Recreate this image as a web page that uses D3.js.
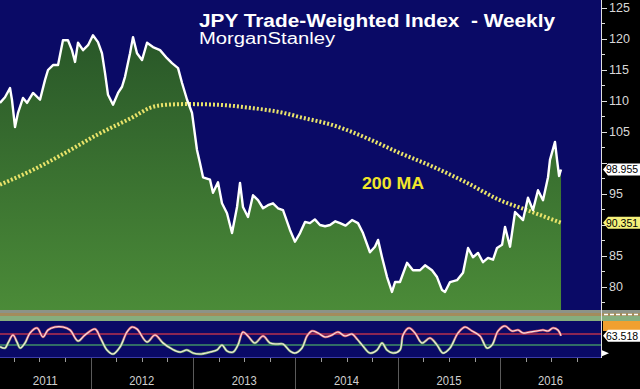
<!DOCTYPE html>
<html><head><meta charset="utf-8">
<script src="https://cdn.jsdelivr.net/npm/d3@7"></script>
<style>html,body{margin:0;padding:0;background:#000;}svg{display:block;}</style>
</head><body>
<script>
// ---------- DATA ----------
const priceDates = [2011.115,2011.164,2011.213,2011.232,2011.262,2011.291,2011.340,2011.379,2011.438,2011.506,2011.555,2011.584,2011.633,2011.682,2011.730,2011.779,2011.818,2011.848,2011.877,2011.926,2011.975,2012.023,2012.072,2012.111,2012.141,2012.170,2012.219,2012.268,2012.307,2012.336,2012.385,2012.414,2012.453,2012.502,2012.551,2012.609,2012.678,2012.746,2012.795,2012.854,2012.893,2012.942,2012.990,2013.039,2013.068,2013.098,2013.166,2013.195,2013.244,2013.283,2013.332,2013.381,2013.430,2013.459,2013.488,2013.537,2013.586,2013.635,2013.684,2013.732,2013.781,2013.830,2013.879,2013.947,2013.996,2014.045,2014.094,2014.142,2014.190,2014.240,2014.290,2014.338,2014.390,2014.436,2014.490,2014.553,2014.611,2014.660,2014.728,2014.777,2014.807,2014.846,2014.895,2014.943,2014.973,2015.021,2015.090,2015.148,2015.217,2015.266,2015.334,2015.383,2015.432,2015.461,2015.510,2015.578,2015.637,2015.686,2015.734,2015.783,2015.832,2015.881,2015.930,2015.969,2016.018,2016.047,2016.096,2016.145,2016.193,2016.223,2016.271,2016.320,2016.369,2016.418,2016.467,2016.486,2016.535,2016.555,2016.575,2016.594];
const priceValues = [109.7,110.6,112.1,110.2,105.8,108.1,110.5,109.7,111.3,110.2,113.4,115.0,115.8,115.8,119.8,119.8,118.2,116.3,119.4,118.2,119.0,120.6,119.5,117.7,114.5,111.0,109.4,111.3,112.3,113.9,117.7,120.3,117.7,116.6,119.4,118.7,118.2,116.9,116.1,115.3,112.9,110.2,108.1,102.1,100.0,97.7,97.3,95.2,96.9,93.5,91.9,88.7,92.9,96.8,92.9,91.3,94.8,94.0,92.7,93.2,93.5,92.7,92.4,89.2,87.3,88.7,90.5,90.3,90.9,90.0,89.8,90.0,90.6,90.3,89.9,90.8,90.3,88.7,85.6,86.5,87.6,84.8,81.6,79.2,80.8,80.8,83.9,82.7,82.7,83.5,82.7,81.6,79.5,79.2,80.8,81.1,82.3,86.3,84.8,85.5,84.0,84.7,84.4,86.3,86.8,89.7,86.5,92.1,91.3,90.8,94.4,92.4,95.6,94.0,97.7,100.5,103.4,100.5,97.9,98.955];

const maDates = [2011.115,2011.438,2011.770,2012.092,2012.414,2012.580,2012.746,2012.942,2013.234,2013.557,2013.879,2014.045,2014.367,2014.699,2015.021,2015.344,2015.676,2015.998,2016.262,2016.594];
const maValues = [96.5,98.9,101.8,104.8,107.4,108.9,109.4,109.5,109.4,108.9,108.1,107.4,106.1,104.0,101.6,99.4,96.8,94.0,92.4,90.351];

const oscDates = [2011.115,2011.164,2011.193,2011.242,2011.281,2011.311,2011.359,2011.408,2011.477,2011.535,2011.584,2011.652,2011.730,2011.799,2011.877,2011.945,2012.043,2012.092,2012.160,2012.219,2012.287,2012.355,2012.404,2012.453,2012.551,2012.629,2012.707,2012.795,2012.873,2012.941,2013.000,2013.068,2013.166,2013.234,2013.283,2013.332,2013.391,2013.439,2013.488,2013.537,2013.605,2013.684,2013.752,2013.820,2013.879,2013.947,2013.996,2014.064,2014.113,2014.162,2014.221,2014.289,2014.357,2014.416,2014.484,2014.553,2014.602,2014.660,2014.728,2014.797,2014.846,2014.895,2014.953,2015.021,2015.051,2015.109,2015.168,2015.236,2015.314,2015.383,2015.441,2015.510,2015.588,2015.656,2015.725,2015.803,2015.871,2015.920,2015.979,2016.047,2016.115,2016.174,2016.223,2016.291,2016.359,2016.418,2016.467,2016.516,2016.564,2016.594];
const oscValues = [23.8,19.1,37.3,66.4,40.9,19.1,37.3,73.6,91.8,59.1,84.5,95.5,95.5,84.5,44.5,66.4,88.2,59.1,11.8,-2.7,22.7,77.3,95.5,88.2,40.9,66.4,37.3,15.5,4.5,11.8,0.9,-2.7,4.5,11.8,30,8.2,4.5,30,77.3,62.7,37.3,62.7,37.3,33.6,33.6,8.2,0.9,19.1,62.7,80.9,73.6,59.1,66.4,77.3,62.7,70,51.8,26.4,0.9,11.8,37.3,11.8,0.9,11.8,66.4,91.8,73.6,37.3,55.5,30,0.9,19.1,73.6,95.5,80.9,62.7,19.1,30,80.9,99.1,80.9,84.5,73.6,77.3,80.9,84.5,80.9,91.8,84.5,63.518];

const yTicks = [80,85,90,95,100,105,110,115,120,125];
const years = ["2011","2012","2013","2014","2015","2016"];
const oscLevels = [70,30];
const lastPrice = "98.955", lastMA = "90.351", lastOsc = "63.518";

// ---------- LAYOUT ----------
const W = 640, H = 389;
const plotR = 601;
const mainTop = 0, mainBot = 310;
const oscTop = 321, oscBot = 357;

const svg = d3.select("body").append("svg").attr("width", W).attr("height", H)
  .style("font-family", "'Liberation Sans', Arial, sans-serif");

const x = d3.scaleLinear().domain([2011.1152, 2011.1152 + plotR/102.4]).range([0, plotR]);
const y = d3.scaleLinear().domain([76.29, 126.29]).range([mainBot, mainTop]);
const yo = d3.scaleLinear().domain([-17, 110]).range([358, 323]);

const defs = svg.append("defs");
const g1 = defs.append("linearGradient").attr("id","grn").attr("gradientUnits","userSpaceOnUse")
  .attr("x1",0).attr("y1",30).attr("x2",0).attr("y2",mainBot);
g1.append("stop").attr("offset",0).attr("stop-color","#285628");
g1.append("stop").attr("offset",1).attr("stop-color","#4b8b38");
const g2 = defs.append("linearGradient").attr("id","oscg").attr("gradientUnits","userSpaceOnUse")
  .attr("x1",0).attr("y1",oscTop).attr("x2",0).attr("y2",oscBot);
g2.append("stop").attr("offset",0.45).attr("stop-color","#d85868");
g2.append("stop").attr("offset",0.6).attr("stop-color","#80b868");
defs.append("clipPath").attr("id","clipMain").append("rect").attr("x",0).attr("y",0).attr("width",plotR).attr("height",mainBot);
defs.append("clipPath").attr("id","clipOsc").append("rect").attr("x",0).attr("y",oscTop).attr("width",plotR).attr("height",oscBot-oscTop);

// backgrounds
svg.append("rect").attr("width",W).attr("height",H).attr("fill","#000");
svg.append("rect").attr("x",0).attr("y",0).attr("width",plotR).attr("height",mainBot).attr("fill","#0a0a66");

const price = priceDates.map((d,i)=>({t:d, v:priceValues[i]}));
const ma = maDates.map((d,i)=>({t:d, v:maValues[i]}));
const osc = oscDates.map((d,i)=>({t:d, v:oscValues[i]}));

const gm = svg.append("g").attr("clip-path","url(#clipMain)");
gm.append("path").datum(price)
  .attr("d", d3.area().x(d=>x(d.t)).y0(mainBot).y1(d=>y(d.v)))
  .attr("fill","url(#grn)");
gm.append("path").datum(ma)
  .attr("d", d3.line().x(d=>x(d.t)).y(d=>y(d.v)).curve(d3.curveMonotoneX))
  .attr("fill","none").attr("stroke","#e9e36a").attr("stroke-width",4).attr("stroke-dasharray","2,2");
gm.append("path").datum(price)
  .attr("d", d3.line().x(d=>x(d.t)).y(d=>y(d.v)))
  .attr("fill","none").attr("stroke","#ffffff").attr("stroke-width",2.4).attr("stroke-linejoin","round");

// titles
svg.append("text").attr("x",199).attr("y",27).attr("fill","#fff").attr("font-weight","bold")
  .attr("font-size",18).style("white-space","pre").attr("textLength",356).attr("lengthAdjust","spacingAndGlyphs")
  .text("JPY Trade-Weighted Index  - Weekly");
svg.append("text").attr("x",199).attr("y",44).attr("fill","#fff").attr("font-size",16)
  .attr("textLength",136).attr("lengthAdjust","spacingAndGlyphs").text("MorganStanley");
svg.append("text").attr("x",362).attr("y",189).attr("fill","#f2e62a").attr("font-weight","bold")
  .attr("font-size",17).attr("textLength",62).attr("lengthAdjust","spacingAndGlyphs").text("200 MA");

// separator bands
const bands = [[310,313,"#8d9387"],[313,316,"#a38c5c"],[316,321,"#86ae7e"]];
bands.forEach(b=>svg.append("rect").attr("x",0).attr("y",b[0]).attr("width",W).attr("height",b[1]-b[0]).attr("fill",b[2]));
svg.append("line").attr("x1",604).attr("x2",W).attr("y1",314.5).attr("y2",314.5)
  .attr("stroke","#fff").attr("stroke-width",1.5).attr("stroke-dasharray","4,2");

// oscillator panel
svg.append("rect").attr("x",0).attr("y",oscTop).attr("width",plotR).attr("height",oscBot-oscTop).attr("fill","#0a0a66");
svg.append("line").attr("x1",0).attr("x2",plotR).attr("y1",oscBot+0.5).attr("y2",oscBot+0.5).attr("stroke","#3a3aa8");
svg.append("line").attr("x1",0).attr("x2",plotR).attr("y1",yo(oscLevels[0])).attr("y2",yo(oscLevels[0]))
  .attr("stroke","#b8304e").attr("stroke-width",1.5);
svg.append("line").attr("x1",0).attr("x2",plotR).attr("y1",yo(oscLevels[1])).attr("y2",yo(oscLevels[1]))
  .attr("stroke","#3f8f66").attr("stroke-width",1.5);
const go = svg.append("g").attr("clip-path","url(#clipOsc)");
const oline = d3.line().x(d=>x(d.t)).y(d=>yo(d.v)).curve(d3.curveCatmullRom);
go.append("path").datum(osc).attr("d",oline).attr("fill","none").attr("stroke","url(#oscg)").attr("stroke-width",2.4);
go.append("path").datum(osc).attr("d",oline).attr("fill","none").attr("stroke","#f3e4e4").attr("stroke-width",1.1);

// right axis
svg.append("line").attr("x1",plotR+0.5).attr("x2",plotR+0.5).attr("y1",0).attr("y2",oscBot+1).attr("stroke","#e0e0e0").attr("stroke-width",1);
const minor = d3.range(77.5, 126, 2.5);
svg.selectAll(".mt").data(minor).enter().append("line")
  .attr("x1",plotR).attr("x2",d=> (d%5===0)?plotR+6:plotR+4)
  .attr("y1",d=>Math.round(y(d))+0.5).attr("y2",d=>Math.round(y(d))+0.5).attr("stroke","#e0e0e0");
// tick labels hidden where the last-value tags sit (as in the terminal chart)
const tagVals = [+lastPrice, +lastMA];
const visTicks = yTicks.filter(t => tagVals.every(v => Math.abs(y(t)-y(v)) > 11));
svg.selectAll(".yl").data(visTicks).enter().append("text")
  .attr("x",609).attr("y",d=>y(d)).attr("dy","0.36em").attr("fill","#d8d8d8").attr("font-size",12.5)
  .text(d=>d);

function tag(yc, txt, fill, tx){
  const gtag = svg.append("g");
  gtag.append("path").attr("d",`M${plotR+2},${yc} L${plotR+7},${yc-6} L${W},${yc-6} L${W},${yc+6} L${plotR+7},${yc+6} Z`)
    .attr("fill",fill);
  gtag.append("text").attr("x",tx).attr("y",yc).attr("dy","0.36em").attr("fill","#000").attr("font-size",10.5)
    .text(txt);
}
tag(y(+lastPrice), lastPrice, "#ffffff", 606);
tag(y(+lastMA), lastMA, "#f4f07a", 606);
// oscillator axis tags
svg.append("rect").attr("x",603).attr("y",321).attr("width",37).attr("height",10).attr("fill","#f0a030");
tag(yo(+lastOsc), lastOsc, "#ffffff", 606);
svg.append("path").attr("d",`M${plotR+1},${yo(0)-3} L${plotR+8},${yo(0)} L${plotR+1},${yo(0)+3} Z`).attr("fill","#fff");

// bottom time axis
const yearStarts = d3.range(2012, 2017);
svg.selectAll(".yd").data(yearStarts).enter().append("line")
  .attr("x1",d=>Math.round(x(d))+0.5).attr("x2",d=>Math.round(x(d))+0.5)
  .attr("y1",oscBot+1).attr("y2",H).attr("stroke","#5a5a5a");
const quarters = d3.range(2011.25, 2017.0, 0.25).filter(q=>q%1!==0 && x(q)<plotR+20);
svg.selectAll(".qt").data(quarters).enter().append("line")
  .attr("x1",d=>Math.round(x(d))+0.5).attr("x2",d=>Math.round(x(d))+0.5)
  .attr("y1",oscBot+1).attr("y2",oscBot+5).attr("stroke","#9a9a9a");
svg.selectAll(".yr").data(years).enter().append("text")
  .attr("x",(d)=>{const s=Math.max(x(+d),0), e=Math.min(x(+d+1),plotR); return (s+e)/2;})
  .attr("y",385).attr("text-anchor","middle").attr("fill","#d0d0d0").attr("font-size",12.5)
  .attr("textLength",25).attr("lengthAdjust","spacingAndGlyphs").text(d=>d);
</script>
</body></html>
